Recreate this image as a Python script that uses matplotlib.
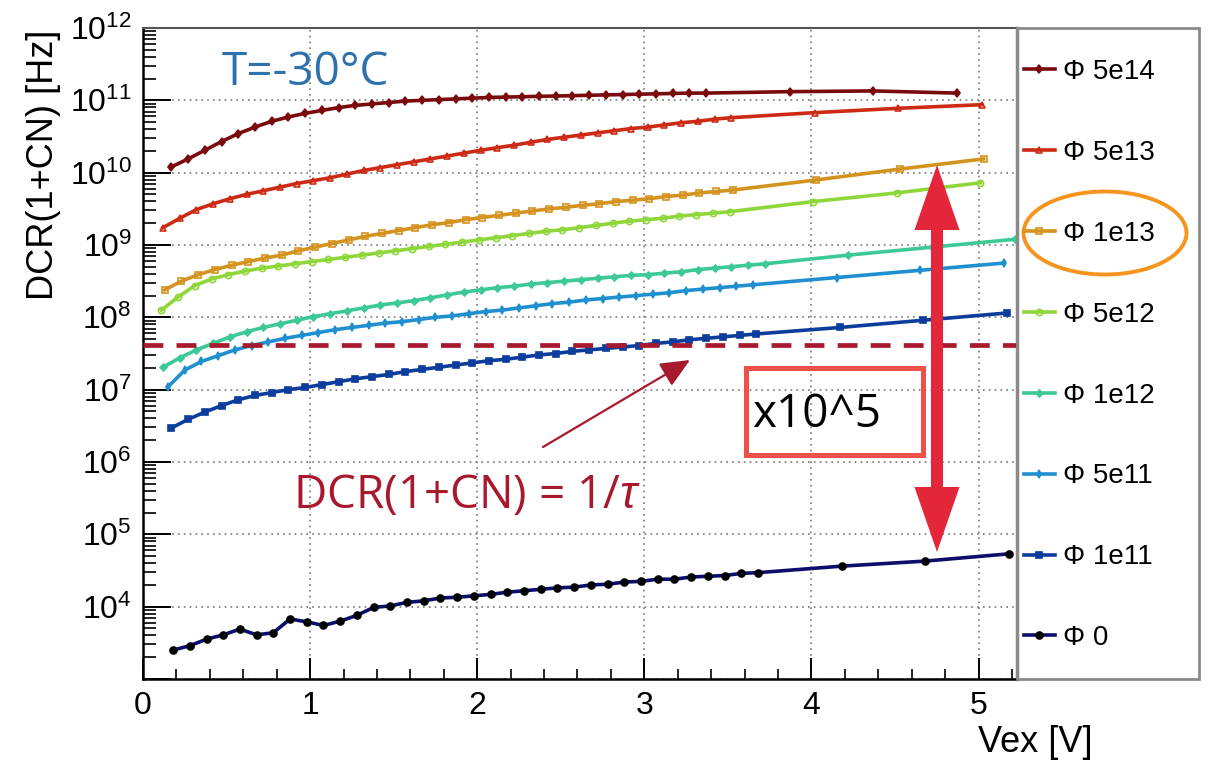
import matplotlib
matplotlib.use("Agg")
import matplotlib.pyplot as plt
import numpy as np
from matplotlib.patches import Rectangle, Ellipse, Polygon
from matplotlib.ticker import FixedLocator, MultipleLocator, LogLocator, NullFormatter

plt.rcParams['font.family'] = ['Liberation Sans', 'DejaVu Sans']
plt.rcParams['mathtext.fontset'] = 'custom'
plt.rcParams['mathtext.rm'] = 'Liberation Sans'
plt.rcParams['mathtext.it'] = 'Liberation Sans:italic'

# ---------------- data (log10 of DCR(1+CN) [Hz]) ----------------
labels = ["Φ 5e14", "Φ 5e13", "Φ 1e13", "Φ 5e12", "Φ 1e12", "Φ 5e11", "Φ 1e11", "Φ 0"]
colors = ["#7a0a0c", "#cc2a14", "#d4921e", "#8fd63a", "#3cc995", "#1f8fd0", "#0c3c9c", "#0d0d6b"]

x_5e14 = [0.17, 0.27, 0.37, 0.47, 0.57, 0.67, 0.77, 0.87, 0.97, 1.07, 1.17, 1.27, 1.37, 1.47,
          1.57, 1.67, 1.77, 1.87, 1.97, 2.07, 2.17, 2.27, 2.37, 2.47, 2.57, 2.67, 2.77, 2.87,
          2.97, 3.07, 3.17, 3.27, 3.37, 3.87, 4.37, 4.87]
logy_5e14 = [10.08, 10.19, 10.31, 10.43, 10.54, 10.63, 10.71, 10.77, 10.82, 10.86, 10.90, 10.93,
             10.95, 10.97, 10.99, 11.00, 11.01, 11.02, 11.03, 11.04, 11.045, 11.05, 11.055, 11.06,
             11.065, 11.07, 11.075, 11.08, 11.085, 11.09, 11.095, 11.10, 11.10, 11.12, 11.13, 11.10]

x_5e13 = [0.12, 0.22, 0.32, 0.42, 0.52, 0.62, 0.72, 0.82, 0.92, 1.02, 1.12, 1.22, 1.32, 1.42,
          1.52, 1.62, 1.72, 1.82, 1.92, 2.02, 2.12, 2.22, 2.32, 2.42, 2.52, 2.62, 2.72, 2.82,
          2.92, 3.02, 3.12, 3.22, 3.32, 3.42, 3.52, 4.02, 4.52, 5.02]
logy_5e13 = [9.24, 9.37, 9.49, 9.57, 9.64, 9.70, 9.75, 9.80, 9.85, 9.89, 9.93, 9.98, 10.03, 10.07,
             10.11, 10.15, 10.19, 10.23, 10.27, 10.31, 10.345, 10.38, 10.42, 10.46, 10.49, 10.52,
             10.55, 10.58, 10.61, 10.63, 10.66, 10.69, 10.71, 10.74, 10.76, 10.83, 10.89, 10.94]

x_1e13 = [0.13, 0.23, 0.33, 0.43, 0.53, 0.63, 0.73, 0.83, 0.93, 1.03, 1.13, 1.23, 1.33, 1.43,
          1.53, 1.63, 1.73, 1.83, 1.93, 2.03, 2.13, 2.23, 2.33, 2.43, 2.53, 2.63, 2.73, 2.83,
          2.93, 3.03, 3.13, 3.23, 3.33, 3.43, 3.53, 4.03, 4.53, 5.03]
logy_1e13 = [8.38, 8.50, 8.59, 8.66, 8.72, 8.77, 8.82, 8.86, 8.92, 8.97, 9.02, 9.07, 9.12, 9.16,
             9.20, 9.24, 9.28, 9.31, 9.35, 9.38, 9.41, 9.44, 9.47, 9.50, 9.52, 9.55, 9.57, 9.60,
             9.62, 9.64, 9.67, 9.69, 9.72, 9.74, 9.76, 9.90, 10.05, 10.19]

x_5e12 = [0.11, 0.21, 0.31, 0.41, 0.51, 0.61, 0.71, 0.81, 0.91, 1.01, 1.11, 1.21, 1.31, 1.41,
          1.51, 1.61, 1.71, 1.81, 1.91, 2.01, 2.11, 2.21, 2.31, 2.41, 2.51, 2.61, 2.71, 2.81,
          2.91, 3.01, 3.11, 3.21, 3.31, 3.41, 3.51, 4.01, 4.51, 5.01]
logy_5e12 = [8.10, 8.28, 8.44, 8.53, 8.59, 8.64, 8.68, 8.71, 8.74, 8.77, 8.80, 8.83, 8.86, 8.89,
             8.92, 8.95, 8.98, 9.01, 9.04, 9.07, 9.10, 9.13, 9.16, 9.19, 9.21, 9.24, 9.27, 9.30,
             9.33, 9.35, 9.37, 9.40, 9.42, 9.44, 9.46, 9.60, 9.72, 9.86]

x_1e12 = [0.12, 0.22, 0.32, 0.42, 0.52, 0.62, 0.72, 0.82, 0.92, 1.02, 1.12, 1.22, 1.32, 1.42,
          1.52, 1.62, 1.72, 1.82, 1.92, 2.02, 2.12, 2.22, 2.32, 2.42, 2.52, 2.62, 2.72, 2.82,
          2.92, 3.02, 3.12, 3.22, 3.32, 3.42, 3.52, 3.62, 3.72, 4.22, 4.72, 5.22]
logy_1e12 = [7.31, 7.44, 7.55, 7.64, 7.73, 7.80, 7.86, 7.91, 7.96, 8.01, 8.05, 8.09, 8.13, 8.17,
             8.20, 8.23, 8.27, 8.31, 8.35, 8.38, 8.41, 8.43, 8.46, 8.48, 8.50, 8.52, 8.54, 8.56,
             8.58, 8.59, 8.61, 8.63, 8.66, 8.68, 8.70, 8.72, 8.74, 8.86, 8.97, 9.08]

x_5e11 = [0.15, 0.25, 0.35, 0.45, 0.55, 0.65, 0.75, 0.85, 0.95, 1.05, 1.15, 1.25, 1.35, 1.45,
          1.55, 1.65, 1.75, 1.85, 1.95, 2.05, 2.15, 2.25, 2.35, 2.45, 2.55, 2.65, 2.75, 2.85,
          2.95, 3.05, 3.15, 3.25, 3.35, 3.45, 3.55, 3.65, 4.15, 4.65, 5.15]
logy_5e11 = [7.04, 7.27, 7.39, 7.47, 7.55, 7.61, 7.66, 7.71, 7.75, 7.79, 7.83, 7.86, 7.89, 7.92,
             7.94, 7.97, 8.00, 8.02, 8.05, 8.08, 8.10, 8.13, 8.16, 8.19, 8.21, 8.24, 8.26, 8.28,
             8.30, 8.32, 8.34, 8.37, 8.39, 8.41, 8.43, 8.45, 8.55, 8.65, 8.75]

x_1e11 = [0.17, 0.27, 0.37, 0.47, 0.57, 0.67, 0.77, 0.87, 0.97, 1.07, 1.17, 1.27, 1.37, 1.47,
          1.57, 1.67, 1.77, 1.87, 1.97, 2.07, 2.17, 2.27, 2.37, 2.47, 2.57, 2.67, 2.77, 2.87,
          2.97, 3.07, 3.17, 3.27, 3.37, 3.47, 3.57, 3.67, 4.17, 4.67, 5.17]
logy_1e11 = [6.47, 6.59, 6.69, 6.78, 6.86, 6.92, 6.96, 7.00, 7.03, 7.07, 7.11, 7.15, 7.18, 7.21,
             7.25, 7.28, 7.31, 7.34, 7.37, 7.40, 7.42, 7.45, 7.48, 7.50, 7.53, 7.55, 7.57, 7.59,
             7.61, 7.64, 7.66, 7.69, 7.71, 7.73, 7.75, 7.77, 7.86, 7.96, 8.06]

x_0 = [0.18, 0.28, 0.38, 0.48, 0.58, 0.68, 0.78, 0.88, 0.98, 1.08, 1.18, 1.28, 1.38, 1.48,
       1.58, 1.68, 1.78, 1.88, 1.98, 2.08, 2.18, 2.28, 2.38, 2.48, 2.58, 2.68, 2.78, 2.88,
       2.98, 3.08, 3.18, 3.28, 3.38, 3.48, 3.58, 3.68, 4.18, 4.68, 5.18]
logy_0 = [3.40, 3.46, 3.55, 3.61, 3.69, 3.61, 3.64, 3.83, 3.79, 3.74, 3.80, 3.88, 3.99, 4.01,
          4.06, 4.08, 4.12, 4.13, 4.15, 4.17, 4.20, 4.22, 4.24, 4.26, 4.27, 4.30, 4.31, 4.34,
          4.35, 4.38, 4.38, 4.41, 4.42, 4.43, 4.46, 4.47, 4.56, 4.63, 4.73]

tau_level = 4.15e7          # DCR(1+CN) = 1/tau
y_tick_exponents = [4, 5, 6, 7, 8, 9, 10, 11, 12]
x_ticks = [0, 1, 2, 3, 4, 5]

series_x = [x_5e14, x_5e13, x_1e13, x_5e12, x_1e12, x_5e11, x_1e11, x_0]
series_logy = [logy_5e14, logy_5e13, logy_1e13, logy_5e12, logy_1e12, logy_5e11, logy_1e11, logy_0]
markers = ["d", "^", "s", "o", "D", "d", "s", "o"]
mfcs = [None, "none", "none", "none", None, None, None, "black"]
mecs = [None, None, None, None, None, None, None, "black"]
msizes = [4.5, 4.5, 4.5, 4.5, 3.5, 4.0, 4.0, 5.0]

# ---------------- figure ----------------
W, H = 1214, 762
fig = plt.figure(figsize=(W / 100, H / 100), dpi=100)
ax = fig.add_axes([143 / W, 83 / H, 874 / W, 651 / H])
ax.set_yscale("log")
ax.set_xlim(0, 5.23)
ax.set_ylim(1e3, 1e12)

handles = []
for xs, ly, c, m, mfc, mec, ms, lab in zip(series_x, series_logy, colors, markers, mfcs, mecs,
                                           msizes, labels):
    ys = np.power(10.0, ly)
    kw = dict(color=c, lw=2.6, marker=m, ms=ms, mew=1.2, label=lab, zorder=3, clip_on=True)
    if mfc is not None:
        kw["mfc"] = mfc
    if mec is not None:
        kw["mec"] = mec
    h, = ax.plot(xs, ys, **kw)
    handles.append(h)

# tau line
ax.axhline(tau_level, color="#a8192e", lw=3.4, dashes=(4.2, 2.8), zorder=4)

# grid
ax.grid(True, which="major", axis="both", color="#777777", lw=1.2, linestyle=(0, (1, 2.5)))
ax.set_axisbelow(True)

# ticks
ax.xaxis.set_major_locator(FixedLocator(x_ticks))
ax.xaxis.set_minor_locator(MultipleLocator(0.2))
ax.set_xticklabels([str(v) for v in x_ticks])
ax.yaxis.set_major_locator(FixedLocator([10.0 ** e for e in [3] + y_tick_exponents]))
ax.set_yticklabels([""] + [r"$10^{%d}$" % e for e in y_tick_exponents])
ax.yaxis.set_minor_locator(LogLocator(base=10, subs=np.arange(2, 10), numticks=100))
ax.yaxis.set_minor_formatter(NullFormatter())
ax.tick_params(axis="x", which="major", direction="in", length=15, width=1.4, labelsize=23, pad=9)
ax.tick_params(axis="x", which="minor", direction="in", length=7, width=1.2)
ax.tick_params(axis="y", which="major", direction="in", length=20, width=1.4, labelsize=23, pad=8)
ax.tick_params(axis="y", which="minor", direction="in", length=9, width=1.2)
ax.tick_params(top=False, right=False, which="both")

for s in ["left", "bottom"]:
    ax.spines[s].set_linewidth(1.8)
    ax.spines[s].set_color("black")
ax.spines["top"].set_color("#555555")
ax.spines["top"].set_linewidth(1.5)
ax.spines["right"].set_color("#8a8a8a")
ax.spines["right"].set_linewidth(2.5)

# axis titles
fig.text(44 / W, (H - 30) / H, "DCR(1+CN) [Hz]", rotation=90, ha="center", va="top", fontsize=26)
fig.text(1093 / W, (H - 752) / H, "Vex [V]", ha="right", va="baseline", fontsize=26)

# legend box + legend
fig.patches.append(Rectangle((1017 / W, 83 / H), 182 / W, 651 / H, transform=fig.transFigure,
                             fill=False, ec="#8a8a8a", lw=2.0, zorder=1))
leg = fig.legend(handles=handles, loc="upper left", bbox_to_anchor=(1013 / W, (H - 48) / H),
                 bbox_transform=fig.transFigure, frameon=False, fontsize=20, labelspacing=1.975,
                 handlelength=1.1, handletextpad=0.3, borderpad=0.4, borderaxespad=0)

# orange ellipse around Phi 1e13
fig.patches.append(Ellipse((1105 / W, (H - 233) / H), 163 / W, 83 / H, transform=fig.transFigure,
                           fill=False, ec="#f7941d", lw=2.8, zorder=5))

# annotations
ax.text((222 - 143) / 874, (679 - 85) / 651, "T=-30°C", transform=ax.transAxes,
        fontsize=33, color="#2e72ad", family="Open Sans", ha="left", va="baseline")
ax.text((293 - 143) / 874, (679 - 508) / 651, r"DCR(1+CN) = 1/$\tau$", transform=ax.transAxes,
        fontsize=33, color="#a8192e", family="Open Sans", ha="left", va="baseline")
ax.annotate("", xy=((690 - 143) / 874, (679 - 360) / 651), xycoords="axes fraction",
            xytext=((543 - 143) / 874, (679 - 447) / 651), textcoords="axes fraction",
            arrowprops=dict(arrowstyle="-|>,head_length=0.9,head_width=0.4", color="#a8192e",
                            lw=1.6, mutation_scale=20, shrinkA=0, shrinkB=0))

# x10^5 box
ax.add_patch(Rectangle(((745.5 - 143) / 874, (679 - 454.5) / 651), 177 / 874, 87 / 651,
                       transform=ax.transAxes, fill=False, ec="#ef5148", lw=3.6, zorder=5))
ax.text((752 - 143) / 874, (679 - 427) / 651, "x10^5", transform=ax.transAxes,
        fontsize=33, color="black", family="Open Sans", ha="left", va="baseline", zorder=6)

# double arrow (x10^5)
xc, top, bot = (937 - 143) / 874, (679 - 165) / 651, (679 - 552) / 651
hl, hw, sw = 65 / 651, 22.5 / 874, 6 / 874
verts = [(xc, top), (xc + hw, top - hl), (xc + sw, top - hl), (xc + sw, bot + hl),
         (xc + hw, bot + hl), (xc, bot), (xc - hw, bot + hl), (xc - sw, bot + hl),
         (xc - sw, top - hl), (xc - hw, top - hl)]
ax.add_patch(Polygon(verts, closed=True, transform=ax.transAxes, fc="#e3263a", ec="none",
                     zorder=7))

fig.savefig("out.png", dpi=100)
